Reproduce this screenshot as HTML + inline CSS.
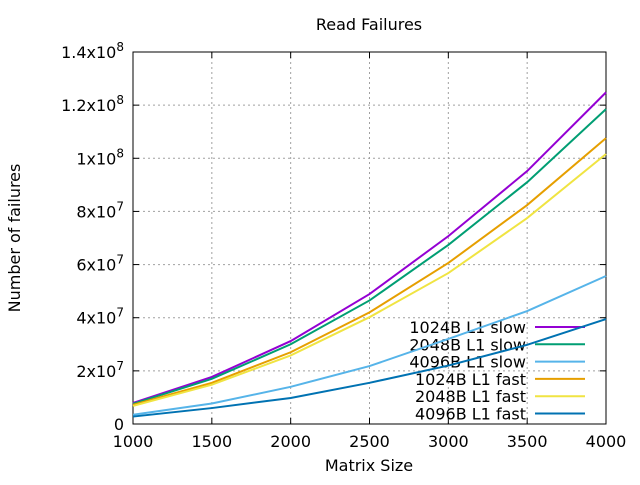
<!DOCTYPE html>
<html><head><meta charset="utf-8"><style>
body{margin:0;background:#fff}
svg text{font-family:"DejaVu Sans","Liberation Sans",sans-serif;font-size:16px;fill:#000}
</style></head><body>
<svg id="c" width="640" height="480"></svg>
<script>
const xs=[1000,1500,2000,2500,3000,3500,4000];
const names=["1024B L1 slow","2048B L1 slow","4096B L1 slow","1024B L1 fast","2048B L1 fast","4096B L1 fast"];
const s1024slow=[0.79,1.77,3.12,4.89,7.07,9.52,12.48];
const s2048slow=[0.76,1.70,3.00,4.65,6.74,9.10,11.85];
const s4096slow=[0.35,0.77,1.40,2.18,3.20,4.25,5.57];
const s1024fast=[0.72,1.55,2.70,4.20,6.06,8.24,10.76];
const s2048fast=[0.68,1.48,2.58,4.02,5.68,7.75,10.16];
const s4096fast=[0.28,0.60,0.98,1.55,2.20,2.98,3.95];
const xTicks=[1000,1500,2000,2500,3000,3500,4000];
const yTicks=[0,2,4,6,8,10,12,14];
const yTickLabels=["0","2x10^7","4x10^7","6x10^7","8x10^7","1x10^8","1.2x10^8","1.4x10^8"];
const series=[s1024slow,s2048slow,s4096slow,s1024fast,s2048fast,s4096fast];
const colors=["#9400d3","#009e73","#56b4e9","#e69f00","#f0e442","#0072b2"];
const L=133,R=606,T=52,B=424;
const X=v=>L+(v-1000)/3000*(R-L);
const Y=v=>B-v/14*(B-T);
const svg=document.getElementById('c');
const NS="http://www.w3.org/2000/svg";
function mk(t,a,p){const e=document.createElementNS(NS,t);for(const k in a)e.setAttribute(k,a[k]);(p||svg).appendChild(e);return e;}
xTicks.forEach((t,i)=>{if(i>0&&i<xTicks.length-1){const g=mk('line',{x1:X(t),x2:X(t),y1:T,y2:B,stroke:'#a0a0a0','stroke-dasharray':'2,3'});}
 const tl=mk('text',{x:X(t),y:447,'text-anchor':'middle'});tl.textContent=t;
 mk('line',{x1:X(t),x2:X(t),y1:B,y2:B-6,stroke:'#000'});mk('line',{x1:X(t),x2:X(t),y1:T,y2:T+6,stroke:'#000'});});
yTicks.forEach((t,i)=>{if(i>0&&i<yTicks.length-1){const g=mk('line',{x1:L,x2:R,y1:Y(t),y2:Y(t),stroke:'#a0a0a0','stroke-dasharray':'2,3'});}
 const tl=mk('text',{x:124,y:Y(t)+6,'text-anchor':'end'});
 const p=yTickLabels[i].split('^');tl.textContent=p[0];if(p[1]){const s=mk('tspan',{dy:-7,'font-size':'12px'},tl);s.textContent=p[1];}
 mk('line',{x1:L,x2:L+6,y1:Y(t),y2:Y(t),stroke:'#000'});mk('line',{x1:R,x2:R-6,y1:Y(t),y2:Y(t),stroke:'#000'});});
const fr=mk('rect',{x:L,y:T,width:R-L,height:B-T,fill:'none',stroke:'#000'});
series.forEach((s,i)=>{const pl=mk('polyline',{points:s.map((v,j)=>X(xs[j])+','+Y(v)).join(' '),fill:'none',stroke:colors[i],'stroke-width':2});
 
 const ly=327+i*17.3;
 const lt=mk('text',{x:526,y:ly+6,'text-anchor':'end'});lt.textContent=names[i];
 const ll=mk('line',{x1:535,x2:585,y1:ly,y2:ly,stroke:colors[i],'stroke-width':2});});
const ti=mk('text',{x:369,y:30,'text-anchor':'middle','font-size':'15px'});ti.textContent='Read Failures';
const xl=mk('text',{x:369,y:471,'text-anchor':'middle','font-size':'15px'});xl.textContent='Matrix Size';
const yl=mk('text',{x:20,y:238,'text-anchor':'middle','font-size':'15px',transform:'rotate(-90 20 238)'});yl.textContent='Number of failures';
</script></body></html>
